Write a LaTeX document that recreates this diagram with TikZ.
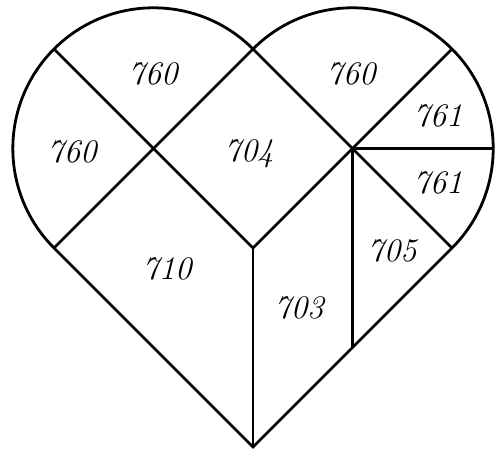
\documentclass[tikz,border=0pt]{standalone}
\begin{document}
\begin{tikzpicture}[x=1bp,y=1bp,
  edge/.style={line width=2.8bp, line join=miter, line cap=butt},
  lbl/.style={inner sep=0pt, font=\fontsize{33}{33}\selectfont\itshape}]
\useasboundingbox (0,0) rectangle (497,450);
% key points
\coordinate (B) at (253,3);
\coordinate (L) at (54,202);
\coordinate (R) at (452,202);
\coordinate (T) at (253,401);
\coordinate (C1) at (153.5,301.5);
\coordinate (C2) at (352.5,301.5);
\coordinate (M) at (253,202);
\coordinate (P1) at (54,401);
\coordinate (P2) at (452,401);
\coordinate (P3) at (493.2,301.5);
\coordinate (Q) at (352.5,102.5);
% outline
\draw[edge] (L) -- (B) -- (R) arc[start angle=-45, end angle=135, radius=140.7]
  arc[start angle=45, end angle=225, radius=140.7] -- cycle;
% inner lines
\draw[edge] (P1) -- (M);
\draw[edge] (L) -- (T) -- (R);
\draw[edge] (P2) -- (M);
\draw[edge] (M) -- (B);
\draw[edge] (C2) -- (P3);
\draw[edge] (C2) -- (Q);
% labels
\node[lbl] (a1) at (72,298) {760};
\node[lbl] (a2) at (153,376) {760};
\node[lbl] (a3) at (351,376) {760};
\node[lbl] (b1) at (249,296) {704};
\node[lbl] (c1) at (438,334) {761};
\node[lbl] (c2) at (438,267) {761};
\node[lbl] (d1) at (392,199) {705};
\node[lbl] (d2) at (299,142) {703};
\node[lbl] (e1) at (167,181) {710};
\end{tikzpicture}
\end{document}
